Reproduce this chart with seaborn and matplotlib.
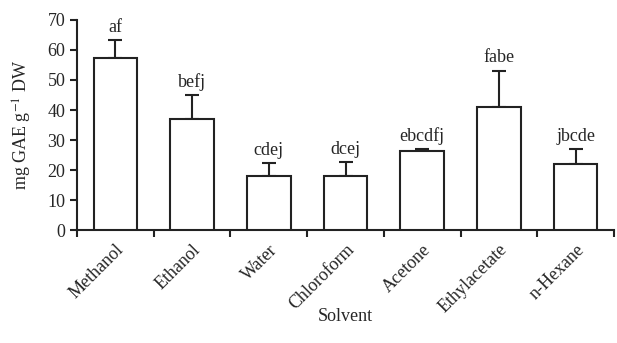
import numpy as np
import pandas as pd
import matplotlib
matplotlib.use('Agg')
import matplotlib.pyplot as plt
import seaborn as sns

solvents = ['Methanol', 'Ethanol', 'Water', 'Chloroform', 'Acetone', 'Ethylacetate', 'n-Hexane']
values = [57.4, 37.1, 18.1, 18.1, 26.4, 41.1, 21.9]
errors = [5.8, 7.8, 4.2, 4.5, 0.6, 11.9, 5.0]
letters = ['af', 'befj', 'cdej', 'dcej', 'ebcdfj', 'fabe', 'jbcde']

sns.set_style('ticks')
plt.rcParams['font.family'] = ['Liberation Serif', 'DejaVu Serif']
plt.rcParams['mathtext.fontset'] = 'stix'
fs = 13

df = pd.DataFrame({'solvent': solvents, 'value': values})

fig = plt.figure(figsize=(6.17, 3.43), dpi=100)
ax = fig.add_axes([0.125, 0.329, 0.87, 0.613])
sns.barplot(data=df, x='solvent', y='value', color='white', edgecolor='#222222',
            linewidth=1.5, width=0.57, errorbar=None, ax=ax, zorder=3)
pos = np.arange(len(solvents))
ax.errorbar(pos, values, yerr=[np.zeros(len(errors)), errors], fmt='none',
            ecolor='#222222', elinewidth=1.5, capsize=5, capthick=1.5, zorder=2)
for p, v, e, t in zip(pos, values, errors, letters):
    ax.text(p, v + e + 1.5, t, ha='center', va='bottom', fontsize=fs)

ax.set_ylim(0, 70)
ax.set_xlim(-0.5, 6.5)
ax.set_yticks(range(0, 71, 10))
ax.set_xticks(pos)
ax.set_xticklabels(solvents, rotation=45, ha='right', rotation_mode='anchor', fontsize=fs)
ax.set_xticks(np.arange(-0.5, 7, 1), minor=True)
ax.tick_params(axis='x', which='major', length=0, pad=8)
ax.tick_params(axis='x', which='minor', length=5, width=1.5, color='#222222')
ax.tick_params(axis='y', length=5, width=1.5, color='#222222', labelsize=fs)
for s in ['left', 'bottom']:
    ax.spines[s].set_linewidth(1.5)
    ax.spines[s].set_color('#222222')
sns.despine(ax=ax)
ax.set_ylabel('mg GAE g$^{-1}$ DW', fontsize=fs)
ax.yaxis.set_label_coords(-0.08, 0.5)
ax.set_xlabel('Solvent', fontsize=fs)
ax.xaxis.set_label_coords(0.5, -0.37)

plt.savefig('out.png', dpi=100)
